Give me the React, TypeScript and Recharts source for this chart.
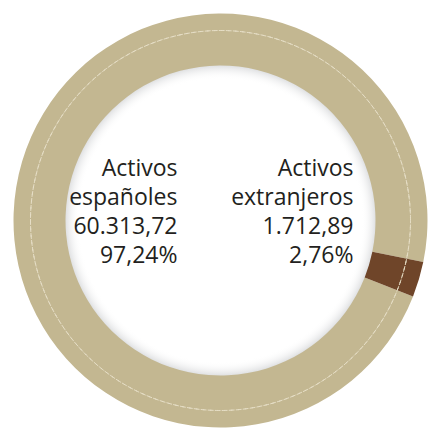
import { PieChart, Pie, Cell } from "recharts";

const categories = ["Activos españoles", "Activos extranjeros"];
const values = [60313.72, 1712.89];
const valueLabels = ["60.313,72", "1.712,89"];
const percentLabels = ["97,24%", "2,76%"];
const colors = ["#c3b791", "#6f4529"];

const data = categories.map((name, i) => ({ name, value: values[i] }));

// two-line names, the way they sit inside the ring
const nameLines = [
  ["Activos", "españoles"],
  ["Activos", "extranjeros"],
];

const CX = 215.5;
const CY = 215.5;

function CenterText() {
  const rightEdges = [CX - 38, CX + 138];
  return (
    <svg
      width={432}
      height={433}
      style={{ position: "absolute", left: 0, top: 0, pointerEvents: "none" }}
    >
      {categories.map((_, i) => {
        const lines = [...nameLines[i], valueLabels[i], percentLabels[i]];
        return (
          <text
            key={i}
            x={rightEdges[i]}
            y={CY - 40}
            textAnchor="end"
            fill="#231f20"
            fontSize={23}
            fontFamily="'Open Sans', sans-serif"
          >
            {lines.map((l, j) => (
              <tspan key={j} x={rightEdges[i]} dy={j === 0 ? 0 : 29}>
                {l}
              </tspan>
            ))}
          </text>
        );
      })}
    </svg>
  );
}

export default function App() {
  return (
    <div style={{ position: "absolute", left: 0, top: 0, width: 432, height: 433, background: "#fff" }}>
      <PieChart width={432} height={433}>
        <defs>
          <radialGradient id="innerShade" cx="50%" cy="50%" r="50%">
            <stop offset="0.9" stopColor="#ffffff" stopOpacity={0} />
            <stop offset="1" stopColor="#c4c6c9" stopOpacity={0.7} />
          </radialGradient>
        </defs>
        {/* soft shadow just inside the ring */}
        <Pie
          data={[{ value: 1 }]}
          dataKey="value"
          cx={CX}
          cy={CY}
          innerRadius={0}
          outerRadius={157}
          stroke="none"
          fill="url(#innerShade)"
          isAnimationActive={false}
        />
        <Pie
          data={data}
          dataKey="value"
          nameKey="name"
          cx={CX}
          cy={CY}
          innerRadius={155}
          outerRadius={207}
          startAngle={-11.6}
          endAngle={348.4}
          stroke="none"
          isAnimationActive={false}
        >
          {data.map((_, i) => (
            <Cell key={i} fill={colors[i]} />
          ))}
        </Pie>
        {/* thin dashed line running round the middle of the ring */}
        <Pie
          data={[{ value: 1 }]}
          dataKey="value"
          cx={CX}
          cy={CY}
          innerRadius={190}
          outerRadius={190}
          fill="none"
          stroke="#e6dec6"
          strokeWidth={1}
          strokeDasharray="4 3"
          isAnimationActive={false}
        />
      </PieChart>
      <CenterText />
    </div>
  );
}
